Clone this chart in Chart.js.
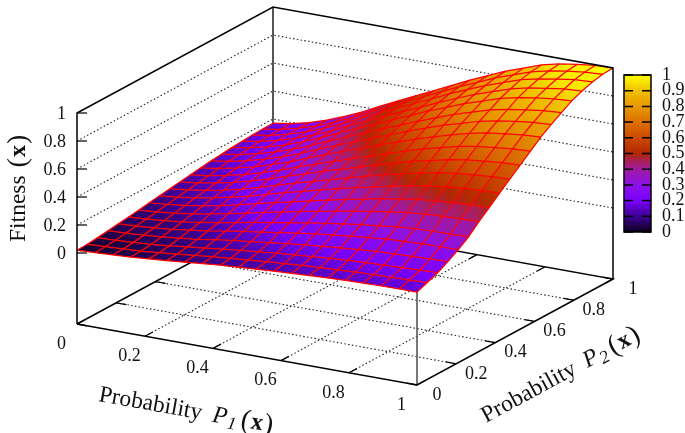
<!DOCTYPE html>
<html>
<head>
<meta charset="utf-8">
<title>Fitness surface</title>
<style>
  html, body { margin: 0; background: #fff; }
  canvas { display: block; }
</style>
<script src="https://cdn.jsdelivr.net/npm/chart.js@4"></script>
</head>
<body>
<canvas id="chart" width="685" height="433"></canvas>
<script>
// grid positions on both probability axes, 20 points each
const gridSteps = [0, 1/19, 2/19, 3/19, 4/19, 5/19, 6/19, 7/19, 8/19, 9/19, 10/19, 11/19, 12/19, 13/19, 14/19, 15/19, 16/19, 17/19, 18/19, 1];

// fitness: one row per P2 step, one column per P1 step
const fitness = [
  [.02,.025,.032,.04,.05,.06,.072,.085,.096,.105,.114,.122,.13,.137,.143,.148,.152,.155,.156,.157],
  [.023,.028,.035,.043,.054,.066,.08,.094,.106,.116,.127,.137,.147,.154,.161,.168,.172,.176,.18,.185],
  [.03,.034,.042,.051,.063,.078,.093,.108,.122,.135,.148,.159,.17,.18,.188,.196,.201,.206,.21,.215],
  [.04,.045,.054,.064,.078,.093,.113,.131,.146,.161,.177,.191,.203,.215,.226,.236,.241,.247,.251,.255],
  [.05,.056,.066,.078,.096,.113,.135,.156,.174,.193,.211,.229,.245,.26,.272,.284,.291,.295,.298,.3],
  [.058,.066,.078,.092,.111,.132,.156,.18,.202,.223,.245,.265,.284,.302,.316,.331,.341,.346,.349,.352],
  [.068,.078,.092,.11,.132,.157,.184,.212,.237,.264,.288,.313,.335,.357,.375,.393,.405,.412,.417,.42],
  [.08,.091,.107,.127,.152,.18,.211,.241,.27,.299,.328,.356,.381,.407,.427,.448,.461,.471,.477,.48],
  [.09,.103,.121,.144,.172,.202,.238,.273,.305,.338,.37,.4,.429,.457,.481,.505,.521,.532,.54,.545],
  [.1,.115,.134,.16,.19,.224,.264,.301,.336,.372,.408,.443,.475,.506,.533,.56,.577,.59,.599,.605],
  [.11,.125,.148,.175,.209,.246,.288,.328,.369,.407,.445,.484,.519,.555,.583,.612,.633,.647,.66,.665],
  [.12,.137,.162,.191,.227,.268,.314,.357,.4,.442,.483,.526,.565,.603,.635,.667,.69,.705,.719,.725],
  [.13,.148,.175,.206,.246,.288,.339,.386,.432,.477,.523,.568,.611,.65,.686,.72,.746,.762,.778,.785],
  [.14,.16,.187,.221,.262,.308,.361,.411,.46,.507,.556,.604,.649,.693,.729,.767,.792,.812,.827,.835],
  [.148,.168,.197,.233,.276,.325,.38,.432,.483,.535,.585,.637,.683,.73,.769,.808,.835,.855,.872,.88],
  [.155,.177,.206,.244,.289,.341,.398,.453,.507,.561,.615,.669,.718,.767,.808,.85,.879,.9,.916,.925],
  [.16,.182,.213,.251,.298,.35,.411,.467,.523,.58,.634,.691,.743,.794,.836,.879,.909,.929,.947,.955],
  [.165,.186,.218,.257,.306,.359,.421,.48,.537,.595,.652,.711,.764,.816,.86,.905,.934,.955,.973,.98],
  [.168,.189,.22,.26,.309,.364,.427,.487,.545,.605,.664,.724,.777,.832,.876,.921,.951,.972,.988,.995],
  [.17,.19,.22,.26,.31,.365,.43,.49,.55,.61,.67,.73,.785,.84,.885,.93,.96,.98,.995,1]
];

const p1Ticks = ["0", "0.2", "0.4", "0.6", "0.8", "1"];
const p2Ticks = ["0", "0.2", "0.4", "0.6", "0.8", "1"];
const zTicks = ["0", "0.2", "0.4", "0.6", "0.8", "1"];
const barTicks = ["0", "0.1", "0.2", "0.3", "0.4", "0.5", "0.6", "0.7", "0.8", "0.9", "1"];

const paletteLevels = [0, .05, .1, .2, .3, .4, .45, .5, .6, .7, .8, .9, .95, 1];
const paletteColors = [[10,0,25], [38,0,90], [62,0,145], [122,0,255], [140,16,232], [160,26,160], [168,32,90], [176,40,0], [204,74,0], [220,112,0], [232,152,0], [240,192,0], [248,224,0], [255,255,0]];

const zFloor = -71 / 140;
const serif = '"Liberation Serif", serif';

// view transform of the box: probabilities and fitness to the flat plot plane
function project(p1, p2, z) {
  return { x: 77 + 340 * p1 + 196 * p2, y: 253 + 61 * p1 - 106 * p2 - 140 * z };
}

function paletteColor(v) {
  let k = 0;
  while (k < paletteLevels.length - 2 && v > paletteLevels[k + 1]) k++;
  const f = (v - paletteLevels[k]) / (paletteLevels[k + 1] - paletteLevels[k]);
  const a = paletteColors[k], b = paletteColors[k + 1];
  return `rgb(${a.map((c, i) => Math.round(c + (b[i] - c) * f)).join(",")})`;
}

function lineSet(points, color, width, dash) {
  return {
    data: points, showLine: true, fill: false, borderColor: color, borderWidth: width,
    borderDash: dash || [], pointRadius: 0, tension: 0
  };
}

// shade a cell along its diagonal, from the colour of one corner to the other
function cellShade(from, to, zFrom, zTo) {
  return (context) => {
    const { ctx, scales } = context.chart;
    const flat = paletteColor((zFrom + zTo) / 2);
    if (!scales.x) return flat;
    const x0 = scales.x.getPixelForValue(from.x), y0 = scales.y.getPixelForValue(from.y);
    const x1 = scales.x.getPixelForValue(to.x), y1 = scales.y.getPixelForValue(to.y);
    // scales have no size yet on the first pass
    if (![x0, y0, x1, y1].every(Number.isFinite)) return flat;
    const g = ctx.createLinearGradient(x0, y0, x1, y1);
    for (let s = 0; s <= 4; s++) g.addColorStop(s / 4, paletteColor(zFrom + (zTo - zFrom) * s / 4));
    return g;
  };
}

const layers = [];
const dotted = [1.5, 2.3];

// walls and floor grid, behind the surface
zTicks.forEach((t) => {
  const z = Number(t);
  if (z === 1) return;
  layers.push(lineSet([project(0, 0, z), project(0, 1, z), project(1, 1, z)], "#222", 1.1, dotted));
});
p1Ticks.slice(1, -1).forEach((t) => {
  const p = Number(t);
  layers.push(lineSet([project(p, 0, zFloor), project(p, 1, zFloor)], "#222", 1.1, dotted));
});
p2Ticks.slice(1, -1).forEach((t) => {
  const p = Number(t);
  layers.push(lineSet([project(0, p, zFloor), project(1, p, zFloor)], "#222", 1.1, dotted));
});
layers.push(lineSet([project(0, 1, zFloor), project(0, 1, 1)], "#555", 2));
layers.push(lineSet([project(1, 0, zFloor), project(1, 0, 0.16)], "#555", 1.6));
layers.push(lineSet([project(0, 0, zFloor), project(1, 0, zFloor), project(1, 1, zFloor), project(0, 1, zFloor), project(0, 0, zFloor)], "#000", 1.5));
p1Ticks.forEach((t) => {
  const p = Number(t);
  layers.push(lineSet([project(p, 0, zFloor), project(p, 0.04, zFloor)], "#000", 1.3));
  layers.push(lineSet([project(p, 1, zFloor), project(p, 0.96, zFloor)], "#000", 1.3));
});
p2Ticks.forEach((t) => {
  const p = Number(t);
  layers.push(lineSet([project(0, p, zFloor), project(0.03, p, zFloor)], "#000", 1.3));
  layers.push(lineSet([project(1, p, zFloor), project(0.97, p, zFloor)], "#000", 1.3));
});

// surface cells, back to front
for (let j = gridSteps.length - 2; j >= 0; j--) {
  for (let i = 0; i < gridSteps.length - 1; i++) {
    const a = project(gridSteps[i], gridSteps[j], fitness[j][i]);
    const c = project(gridSteps[i + 1], gridSteps[j + 1], fitness[j + 1][i + 1]);
    layers.push({
      data: [
        a,
        project(gridSteps[i + 1], gridSteps[j], fitness[j][i + 1]),
        c,
        project(gridSteps[i], gridSteps[j + 1], fitness[j + 1][i]),
        a
      ],
      showLine: true, fill: "shape", borderWidth: 0, pointRadius: 0, tension: 0,
      backgroundColor: cellShade(a, c, fitness[j][i], fitness[j + 1][i + 1])
    });
  }
}

// red mesh on top of the cells
gridSteps.forEach((s, j) => {
  layers.push(lineSet(gridSteps.map((p, i) => project(p, s, fitness[j][i])), "#ff0000", 1.25));
  layers.push(lineSet(gridSteps.map((p, i) => project(s, p, fitness[i][j])), "#ff0000", 1.25));
});

// front box lines
layers.push(lineSet([project(0, 0, zFloor), project(0, 0, 1), project(0, 1, 1), project(1, 1, 1), project(1, 1, zFloor)], "#000", 1.5));

function drawRun(ctx, x, y, angle, parts) {
  ctx.save();
  ctx.translate(x, y);
  ctx.rotate(angle);
  ctx.textAlign = "left";
  ctx.textBaseline = "alphabetic";
  let at = 0;
  parts.forEach((p) => {
    ctx.font = p.font;
    ctx.fillText(p.text, at, p.dy || 0);
    at += ctx.measureText(p.text).width + (p.gap || 0);
  });
  ctx.restore();
}

function titleParts(sub) {
  return [
    { text: "Probability", font: `23.5px ${serif}`, gap: 11 },
    { text: "P", font: `italic 24px ${serif}`, gap: 1 },
    { text: sub, font: `italic 18px ${serif}`, dy: 4, gap: 4 },
    { text: "(", font: `28px ${serif}`, dy: 1, gap: 1 },
    { text: "x", font: `bold 24px ${serif}`, gap: 1 },
    { text: ")", font: `28px ${serif}`, dy: 1 }
  ];
}

const labelsPlugin = {
  id: "boxLabels",
  afterDatasetsDraw(chart) {
    const { ctx, scales } = chart;
    const px = (pt) => ({ x: scales.x.getPixelForValue(pt.x), y: scales.y.getPixelForValue(pt.y) });
    ctx.save();
    ctx.fillStyle = "#111";
    ctx.strokeStyle = "#111";
    ctx.font = `18px ${serif}`;
    ctx.textBaseline = "middle";

    ctx.textAlign = "right";
    zTicks.forEach((t) => {
      const a = px(project(0, 0, Number(t)));
      ctx.fillText(t, a.x - 11, a.y + 1);
      ctx.lineWidth = 1.3;
      ctx.beginPath();
      ctx.moveTo(a.x, a.y);
      ctx.lineTo(a.x + 10, a.y);
      ctx.stroke();
    });

    ctx.textAlign = "center";
    p1Ticks.forEach((t) => {
      const a = px(project(Number(t), 0, zFloor));
      ctx.fillText(t, a.x - 15.5, a.y + 20);
    });
    p2Ticks.forEach((t) => {
      const a = px(project(1, Number(t), zFloor));
      ctx.fillText(t, a.x + 20, a.y + 10);
    });

    // colour bar
    const top = px({ x: 624, y: 75 }), bottom = px({ x: 651, y: 232 });
    const grad = ctx.createLinearGradient(0, bottom.y, 0, top.y);
    paletteLevels.forEach((l) => grad.addColorStop(l, paletteColor(l)));
    ctx.fillStyle = grad;
    ctx.fillRect(top.x, top.y, bottom.x - top.x, bottom.y - top.y);
    ctx.strokeStyle = "#000";
    ctx.lineWidth = 1.5;
    ctx.strokeRect(top.x, top.y, bottom.x - top.x, bottom.y - top.y);
    ctx.fillStyle = "#111";
    ctx.textAlign = "left";
    barTicks.forEach((t) => {
      const y = bottom.y + (top.y - bottom.y) * Number(t);
      ctx.beginPath();
      ctx.moveTo(top.x, y);
      ctx.lineTo(top.x + 9, y);
      ctx.moveTo(bottom.x - 9, y);
      ctx.lineTo(bottom.x, y);
      ctx.stroke();
      ctx.fillText(t, bottom.x + 11, y);
    });

    // axis titles
    drawRun(ctx, 25, 242, -Math.PI / 2, [
      { text: "Fitness", font: `23.5px ${serif}`, gap: 8 },
      { text: "(", font: `28px ${serif}`, dy: 1, gap: 1 },
      { text: "x", font: `bold 24px ${serif}`, gap: 1 },
      { text: ")", font: `28px ${serif}`, dy: 1 }
    ]);
    drawRun(ctx, 98, 401, 10.2 * Math.PI / 180, titleParts("1"));
    drawRun(ctx, 486, 423, -28.4 * Math.PI / 180, titleParts("2"));
    ctx.restore();
  }
};

new Chart(document.getElementById("chart"), {
  type: "scatter",
  // chart.js paints the first dataset last
  data: { datasets: layers.reverse() },
  options: {
    responsive: false,
    animation: false,
    events: [],
    layout: { padding: 0 },
    plugins: { legend: { display: false }, tooltip: { enabled: false } },
    scales: {
      x: { type: "linear", min: 0, max: 685, display: false },
      y: { type: "linear", min: 0, max: 433, reverse: true, display: false }
    }
  },
  plugins: [labelsPlugin]
});
</script>
</body>
</html>
